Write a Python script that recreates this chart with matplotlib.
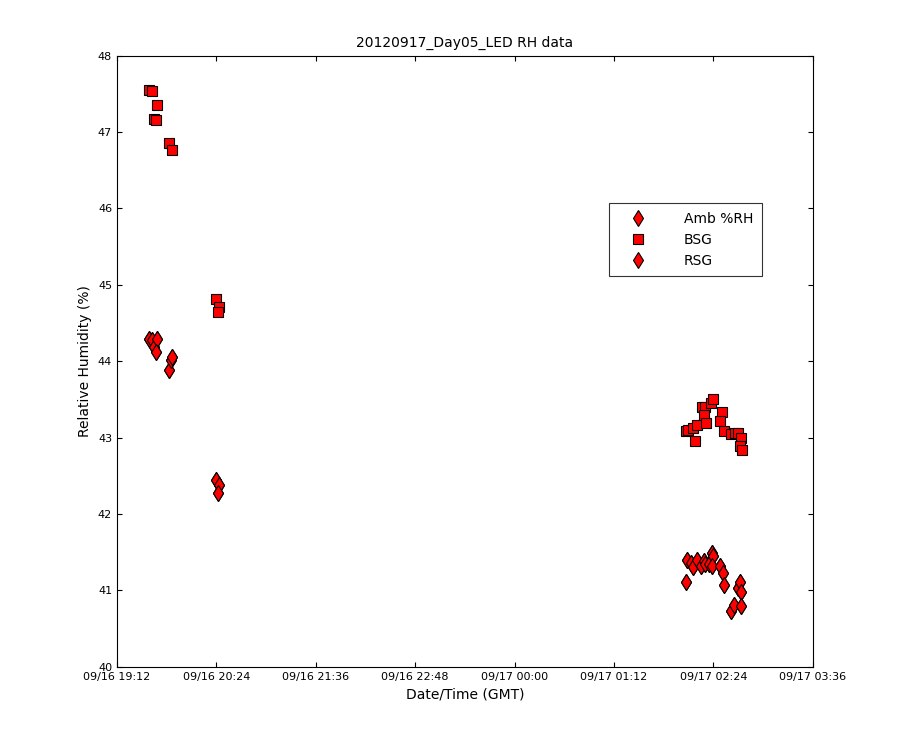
import matplotlib
matplotlib.use("Agg")
import matplotlib.pyplot as plt
from datetime import datetime

bsg_times = ["09/16 19:35","09/16 19:37","09/16 19:39","09/16 19:40","09/16 19:41","09/16 19:50","09/16 19:52","09/16 20:24","09/16 20:26","09/16 20:25",
             "09/17 02:04","09/17 02:06","09/17 02:11","09/17 02:09","09/17 02:12","09/17 02:16","09/17 02:18","09/17 02:17","09/17 02:19","09/17 02:22",
             "09/17 02:24","09/17 02:30","09/17 02:29","09/17 02:32","09/17 02:37","09/17 02:40","09/17 02:42","09/17 02:44","09/17 02:43","09/17 02:45"]
bsg_vals = [47.55,47.54,47.17,47.15,47.35,46.85,46.76,44.81,44.71,44.64,
            43.08,43.10,42.96,43.13,43.17,43.40,43.40,43.29,43.19,43.45,
            43.50,43.34,43.21,43.08,43.05,43.06,43.06,43.00,42.89,42.84]
rsg_times = ["09/16 19:35","09/16 19:37","09/16 19:39","09/16 19:41","09/16 19:40","09/16 19:50","09/16 19:51","09/16 19:52","09/16 20:24","09/16 20:26","09/16 20:25",
             "09/17 02:05","09/17 02:04","09/17 02:08","09/17 02:09","09/17 02:12","09/17 02:15","09/17 02:17","09/17 02:18","09/17 02:21","09/17 02:23",
             "09/17 02:24","09/17 02:23","09/17 02:29","09/17 02:31","09/17 02:32","09/17 02:37","09/17 02:39","09/17 02:42","09/17 02:43","09/17 02:44","09/17 02:44"]
rsg_vals = [44.29,44.27,44.18,44.29,44.12,43.89,44.02,44.05,42.45,42.38,42.28,
            41.40,41.11,41.36,41.31,41.40,41.32,41.39,41.35,41.35,41.49,
            41.45,41.32,41.32,41.23,41.07,40.73,40.81,41.03,41.11,40.98,40.80]
amb_times = rsg_times
amb_vals = rsg_vals
xticks = ["09/16 19:12","09/16 20:24","09/16 21:36","09/16 22:48","09/17 00:00","09/17 01:12","09/17 02:24","09/17 03:36"]

def p(s):
    return datetime.strptime("2012/" + s, "%Y/%m/%d %H:%M")

fig = plt.figure(figsize=(9, 7.5), dpi=100)
ax = fig.add_axes([0.13, 0.111, 0.773, 0.815])
kw = dict(color="red", markeredgecolor="black", linestyle="none", markeredgewidth=0.8)
ax.plot([p(t) for t in amb_times], amb_vals, marker="d", markersize=8, label="Amb %RH", **kw)
ax.plot([p(t) for t in bsg_times], bsg_vals, marker="s", markersize=7, label="BSG", **kw)
ax.plot([p(t) for t in rsg_times], rsg_vals, marker="d", markersize=8, label="RSG", **kw)
ax.set_xlim(p(xticks[0]), p(xticks[-1]))
ax.set_xticks([p(t) for t in xticks])
ax.set_xticklabels(xticks)
ax.set_ylim(40, 48)
ax.set_yticks(range(40, 49))
ax.tick_params(direction="in", labelsize=8, top=True, right=True)
ax.set_xlabel("Date/Time (GMT)", fontsize=10)
ax.set_ylabel("Relative Humidity (%)", fontsize=10)
ax.set_title("20120917_Day05_LED RH data", fontsize=10)
leg = ax.legend(loc="upper left", bbox_to_anchor=(0.707, 0.758), fancybox=False, edgecolor="black",
                fontsize=10, borderpad=0.6, labelspacing=0.5, handlelength=3.0, handletextpad=1.8, borderaxespad=0)
leg.get_frame().set_linewidth(0.8)
fig.savefig("out.png")
